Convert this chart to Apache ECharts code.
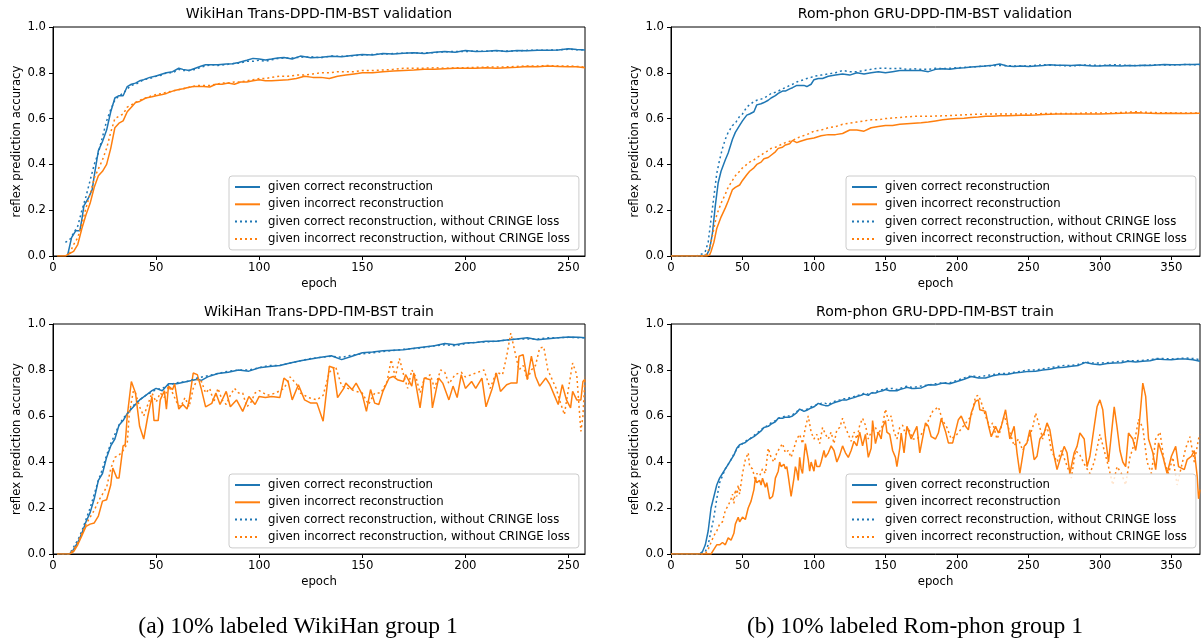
<!DOCTYPE html>
<html>
<head>
<meta charset="utf-8">
<script src="https://cdn.jsdelivr.net/npm/echarts@6/dist/echarts.min.js"></script>
<style>
html,body{margin:0;padding:0;background:#fff;}
#chart{width:1201px;height:639px;}
</style>
</head>
<body>
<div id="chart"></div>
<script>
// ---- labels ----
const seriesNames = [
  'given correct reconstruction',
  'given incorrect reconstruction',
  'given correct reconstruction, without CRINGE loss',
  'given incorrect reconstruction, without CRINGE loss'
];
const panelTitles = [
  'WikiHan Trans-DPD-ΠM-BST validation',
  'Rom-phon GRU-DPD-ΠM-BST validation',
  'WikiHan Trans-DPD-ΠM-BST train',
  'Rom-phon GRU-DPD-ΠM-BST train'
];
const captions = ['(a) 10% labeled WikiHan group 1', '(b) 10% labeled Rom-phon group 1'];
const yTicks = [0, 0.2, 0.4, 0.6, 0.8, 1.0];
const xTicksWiki = [0, 50, 100, 150, 200, 250];
const xTicksRom = [0, 50, 100, 150, 200, 250, 300, 350];
const xMaxWiki = 258;
const xMaxRom = 370;

// ---- WikiHan validation: [epoch, accuracy] ----
const wikiValCorrect = [[7,0],[9,0.08],[11,0.11],[13,0.11],[14,0.16],[15,0.22],[17,0.25],[19,0.29],[20,0.35],[22,0.46],[24,0.50],[26,0.55],[28,0.63],[30,0.69],[32,0.70],[34,0.70],[36,0.74],[38,0.75],[40,0.755],[42,0.765],[44,0.77],[47,0.78],[50,0.786],[53,0.795],[55,0.80],[58,0.805],[61,0.82],[63,0.815],[66,0.81],[69,0.82],[72,0.83],[74,0.835],[77,0.835],[80,0.835],[84,0.838],[87,0.84],[90,0.845],[94,0.855],[97,0.863],[100,0.86],[103,0.856],[106,0.86],[109,0.865],[112,0.867],[116,0.86],[120,0.873],[125,0.866],[130,0.868],[135,0.872],[140,0.87],[145,0.876],[150,0.88],[155,0.878],[160,0.884],[165,0.882],[170,0.885],[175,0.888],[180,0.884],[185,0.89],[190,0.893],[195,0.89],[200,0.897],[205,0.893],[210,0.894],[215,0.897],[220,0.893],[225,0.897],[230,0.896],[235,0.899],[240,0.898],[245,0.9],[250,0.905],[254,0.902],[258,0.9]];
const wikiValIncorrect = [[2,0],[6,0],[8,0.01],[10,0.02],[12,0.05],[14,0.12],[16,0.18],[18,0.23],[20,0.3],[22,0.35],[24,0.37],[26,0.4],[28,0.47],[30,0.56],[32,0.58],[34,0.59],[36,0.63],[38,0.65],[40,0.67],[42,0.675],[45,0.69],[48,0.695],[50,0.70],[53,0.705],[55,0.71],[58,0.72],[60,0.725],[63,0.73],[65,0.735],[68,0.74],[70,0.74],[73,0.74],[76,0.738],[79,0.75],[82,0.75],[85,0.755],[88,0.75],[91,0.76],[94,0.76],[97,0.765],[100,0.77],[103,0.765],[106,0.765],[110,0.768],[114,0.77],[118,0.775],[122,0.785],[126,0.78],[130,0.78],[134,0.775],[138,0.785],[142,0.79],[146,0.795],[150,0.80],[155,0.80],[160,0.805],[165,0.808],[170,0.81],[175,0.812],[180,0.815],[185,0.815],[190,0.818],[195,0.82],[200,0.82],[205,0.82],[210,0.822],[215,0.82],[220,0.822],[225,0.824],[230,0.828],[235,0.826],[240,0.83],[245,0.828],[250,0.826],[254,0.826],[258,0.822]];
const wikiValCorrectNoCringe = [[6,0.06],[8,0.07],[10,0.1],[12,0.13],[14,0.2],[16,0.26],[18,0.33],[20,0.4],[22,0.45],[24,0.52],[26,0.59],[28,0.64],[30,0.68],[32,0.7],[34,0.71],[36,0.73],[38,0.745],[40,0.75],[42,0.76],[44,0.77],[47,0.775],[50,0.785],[53,0.79],[55,0.8],[58,0.8],[61,0.815],[63,0.81],[66,0.81],[69,0.815],[72,0.825],[74,0.83],[77,0.835],[80,0.832],[84,0.836],[87,0.84],[90,0.842],[94,0.85],[97,0.85],[100,0.855],[103,0.85],[106,0.857],[109,0.862],[112,0.865],[116,0.865],[120,0.868],[125,0.87],[130,0.866],[135,0.873],[140,0.872],[145,0.874],[150,0.878],[155,0.88],[160,0.882],[165,0.884],[170,0.886],[175,0.886],[180,0.887],[185,0.888],[190,0.892],[195,0.893],[200,0.893],[205,0.895],[210,0.894],[215,0.896],[220,0.895],[225,0.896],[230,0.898],[235,0.898],[240,0.899],[245,0.9],[250,0.903],[254,0.901],[258,0.9]];
const wikiValIncorrectNoCringe = [[8,0.01],[10,0.05],[12,0.08],[14,0.14],[16,0.21],[18,0.27],[20,0.34],[22,0.38],[24,0.42],[26,0.47],[28,0.54],[30,0.6],[32,0.61],[34,0.62],[36,0.65],[38,0.66],[40,0.67],[42,0.68],[45,0.69],[48,0.7],[50,0.705],[53,0.71],[55,0.715],[58,0.72],[60,0.725],[63,0.73],[65,0.735],[68,0.74],[70,0.745],[73,0.745],[76,0.745],[79,0.75],[82,0.755],[85,0.755],[88,0.76],[91,0.76],[94,0.765],[97,0.77],[100,0.775],[103,0.775],[106,0.78],[110,0.785],[114,0.785],[118,0.79],[122,0.79],[126,0.795],[130,0.8],[134,0.8],[138,0.805],[142,0.805],[146,0.805],[150,0.81],[155,0.81],[160,0.812],[165,0.815],[170,0.82],[175,0.82],[180,0.82],[185,0.822],[190,0.82],[195,0.822],[200,0.822],[205,0.824],[210,0.825],[215,0.825],[220,0.826],[225,0.828],[230,0.83],[235,0.83],[240,0.832],[245,0.83],[250,0.83],[254,0.828],[258,0.825]];

// ---- Rom-phon validation ----
const romValCorrect = [[0,0],[5,0],[10,0],[15,0],[20,0],[23,0.002],[25,0.005],[27,0.03],[29,0.10],[30,0.16],[31,0.22],[33,0.32],[35,0.37],[38,0.42],[40,0.45],[43,0.51],[45,0.54],[48,0.57],[50,0.59],[53,0.615],[55,0.62],[58,0.63],[60,0.66],[63,0.665],[65,0.67],[68,0.68],[70,0.69],[73,0.70],[75,0.71],[78,0.72],[80,0.72],[83,0.73],[85,0.735],[88,0.745],[90,0.745],[93,0.745],[95,0.74],[98,0.75],[100,0.77],[103,0.775],[106,0.775],[110,0.785],[115,0.79],[120,0.795],[125,0.79],[130,0.80],[135,0.795],[140,0.80],[145,0.805],[150,0.80],[155,0.805],[160,0.81],[165,0.81],[170,0.81],[175,0.81],[180,0.805],[185,0.815],[190,0.818],[195,0.815],[200,0.82],[205,0.822],[210,0.825],[215,0.828],[220,0.83],[225,0.833],[230,0.838],[235,0.83],[240,0.828],[245,0.83],[250,0.827],[255,0.83],[260,0.832],[265,0.835],[270,0.833],[275,0.833],[280,0.832],[285,0.834],[290,0.832],[295,0.83],[300,0.83],[305,0.832],[310,0.831],[315,0.83],[320,0.832],[325,0.831],[330,0.833],[335,0.832],[340,0.834],[345,0.836],[350,0.835],[355,0.835],[360,0.836],[365,0.836],[370,0.837]];
const romValIncorrect = [[0,0],[10,0],[20,0],[25,0],[27,0.005],[28,0.02],[30,0.06],[32,0.12],[35,0.17],[38,0.21],[40,0.24],[43,0.29],[45,0.30],[48,0.31],[50,0.33],[53,0.355],[55,0.37],[58,0.385],[60,0.40],[63,0.41],[65,0.425],[68,0.43],[70,0.44],[73,0.455],[75,0.47],[78,0.475],[80,0.485],[83,0.49],[85,0.505],[88,0.495],[90,0.50],[95,0.51],[100,0.515],[105,0.525],[110,0.53],[115,0.53],[120,0.535],[125,0.55],[130,0.55],[135,0.545],[140,0.56],[145,0.565],[150,0.57],[155,0.57],[160,0.575],[165,0.578],[170,0.58],[175,0.582],[180,0.585],[185,0.59],[190,0.595],[195,0.598],[200,0.60],[205,0.602],[210,0.605],[215,0.607],[220,0.61],[225,0.61],[230,0.612],[235,0.612],[240,0.614],[245,0.615],[250,0.615],[255,0.616],[260,0.618],[270,0.62],[280,0.62],[290,0.62],[300,0.62],[310,0.622],[320,0.624],[325,0.626],[330,0.624],[340,0.622],[350,0.623],[360,0.622],[370,0.623]];
const romValCorrectNoCringe = [[0,0],[10,0],[18,0],[20,0.005],[22,0.01],[24,0.02],[26,0.06],[28,0.16],[30,0.26],[32,0.36],[34,0.42],[36,0.47],[38,0.51],[40,0.54],[43,0.57],[45,0.58],[48,0.61],[50,0.62],[53,0.65],[55,0.66],[58,0.675],[60,0.68],[63,0.685],[65,0.69],[68,0.70],[70,0.71],[73,0.715],[75,0.72],[78,0.73],[80,0.735],[83,0.745],[85,0.75],[88,0.76],[90,0.765],[93,0.77],[95,0.775],[98,0.78],[100,0.785],[105,0.79],[110,0.795],[115,0.80],[120,0.81],[125,0.805],[130,0.805],[135,0.81],[140,0.815],[145,0.82],[150,0.82],[155,0.818],[160,0.82],[165,0.815],[170,0.818],[175,0.815],[180,0.815],[185,0.82],[190,0.818],[195,0.82],[200,0.822],[210,0.825],[220,0.83],[230,0.832],[240,0.83],[250,0.83],[260,0.835],[270,0.832],[280,0.83],[290,0.834],[300,0.832],[310,0.835],[320,0.832],[330,0.832],[340,0.835],[350,0.834],[360,0.836],[370,0.835]];
const romValIncorrectNoCringe = [[0,0],[10,0],[20,0],[24,0],[26,0.02],[28,0.06],[30,0.12],[32,0.18],[35,0.23],[38,0.27],[40,0.30],[43,0.33],[45,0.35],[48,0.37],[50,0.385],[53,0.40],[55,0.41],[58,0.42],[60,0.43],[63,0.44],[65,0.45],[68,0.46],[70,0.47],[73,0.475],[75,0.48],[78,0.49],[80,0.495],[85,0.505],[90,0.52],[95,0.53],[100,0.545],[105,0.55],[110,0.56],[115,0.565],[120,0.575],[125,0.58],[130,0.585],[135,0.59],[140,0.595],[145,0.595],[150,0.60],[155,0.603],[160,0.605],[170,0.61],[180,0.61],[190,0.612],[200,0.615],[210,0.618],[220,0.62],[230,0.62],[240,0.62],[250,0.62],[260,0.622],[270,0.622],[280,0.622],[290,0.624],[300,0.625],[310,0.625],[320,0.628],[325,0.63],[330,0.628],[340,0.626],[350,0.625],[360,0.625],[370,0.625]];

// ---- WikiHan train ----
const wikiTrainCorrect = [[2,0],[6,0],[8,0],[10,0.02],[12,0.05],[14,0.09],[16,0.14],[18,0.18],[20,0.24],[22,0.32],[24,0.35],[26,0.42],[28,0.47],[30,0.50],[32,0.56],[34,0.58],[36,0.61],[38,0.63],[40,0.65],[42,0.67],[45,0.69],[48,0.71],[50,0.72],[53,0.71],[56,0.74],[60,0.74],[65,0.75],[70,0.76],[72,0.755],[75,0.77],[80,0.785],[85,0.79],[90,0.80],[95,0.795],[100,0.81],[105,0.815],[110,0.82],[115,0.83],[120,0.84],[125,0.848],[130,0.855],[135,0.862],[140,0.845],[145,0.86],[150,0.875],[155,0.878],[160,0.884],[165,0.886],[170,0.888],[175,0.895],[180,0.90],[185,0.905],[190,0.915],[195,0.91],[200,0.917],[205,0.92],[210,0.925],[215,0.925],[220,0.93],[225,0.935],[230,0.94],[235,0.932],[240,0.936],[245,0.94],[250,0.943],[255,0.942],[258,0.94]];
const wikiTrainIncorrect = [[2,0],[8,0],[10,0.01],[12,0.04],[14,0.08],[16,0.12],[18,0.13],[20,0.135],[22,0.165],[24,0.23],[26,0.236],[28,0.30],[29,0.374],[31,0.33],[32,0.33],[34,0.47],[35,0.475],[36,0.60],[38,0.75],[40,0.70],[42,0.555],[44,0.50],[46,0.60],[48,0.685],[49,0.58],[51,0.58],[52,0.67],[54,0.71],[55,0.63],[56,0.73],[58,0.715],[59,0.74],[61,0.63],[63,0.65],[65,0.63],[66,0.665],[68,0.787],[70,0.78],[72,0.715],[74,0.64],[77,0.655],[79,0.70],[81,0.65],[84,0.707],[86,0.64],[89,0.67],[92,0.62],[95,0.685],[98,0.65],[100,0.685],[103,0.68],[106,0.685],[110,0.68],[112,0.765],[114,0.75],[116,0.67],[119,0.736],[122,0.67],[125,0.656],[128,0.656],[131,0.577],[134,0.816],[136,0.81],[138,0.68],[141,0.72],[142,0.743],[145,0.715],[147,0.743],[150,0.693],[152,0.62],[154,0.715],[156,0.656],[158,0.65],[160,0.707],[163,0.765],[165,0.772],[167,0.758],[170,0.75],[171,0.78],[174,0.73],[175,0.787],[178,0.635],[180,0.765],[183,0.758],[184,0.635],[187,0.765],[189,0.743],[192,0.67],[194,0.73],[196,0.68],[198,0.78],[200,0.72],[203,0.75],[205,0.72],[208,0.765],[210,0.64],[213,0.72],[215,0.787],[217,0.707],[220,0.736],[222,0.743],[225,0.743],[226,0.86],[228,0.867],[230,0.758],[232,0.86],[234,0.772],[236,0.73],[239,0.765],[241,0.736],[243,0.693],[245,0.65],[247,0.736],[249,0.67],[251,0.635],[252,0.707],[254,0.67],[256,0.67],[257,0.75],[258,0.76]];
const wikiTrainCorrectNoCringe = [[2,0],[8,0],[10,0.03],[12,0.06],[14,0.1],[16,0.15],[18,0.2],[20,0.26],[22,0.32],[24,0.37],[26,0.43],[28,0.48],[30,0.52],[32,0.56],[34,0.59],[36,0.61],[38,0.635],[40,0.655],[42,0.67],[45,0.69],[48,0.705],[50,0.715],[53,0.72],[56,0.735],[60,0.745],[65,0.75],[70,0.765],[75,0.775],[80,0.785],[85,0.795],[90,0.80],[95,0.80],[100,0.81],[105,0.82],[110,0.82],[115,0.83],[120,0.84],[125,0.85],[130,0.855],[135,0.86],[140,0.855],[145,0.865],[150,0.87],[155,0.875],[160,0.88],[165,0.885],[170,0.89],[175,0.893],[180,0.898],[185,0.905],[190,0.91],[195,0.905],[200,0.915],[205,0.92],[210,0.922],[215,0.925],[220,0.93],[225,0.935],[230,0.935],[235,0.935],[240,0.94],[245,0.94],[250,0.942],[255,0.94],[258,0.94]];
const wikiTrainIncorrectNoCringe = [[2,0],[8,0],[10,0.02],[12,0.05],[14,0.09],[16,0.13],[18,0.16],[20,0.19],[22,0.23],[24,0.26],[26,0.29],[28,0.37],[30,0.42],[32,0.43],[34,0.45],[36,0.48],[37,0.61],[39,0.71],[40,0.70],[42,0.64],[44,0.60],[46,0.65],[48,0.70],[50,0.66],[52,0.70],[54,0.68],[56,0.73],[58,0.70],[60,0.66],[62,0.64],[64,0.68],[66,0.64],[68,0.72],[70,0.76],[72,0.75],[74,0.70],[76,0.72],[78,0.66],[80,0.72],[82,0.67],[84,0.65],[86,0.69],[88,0.72],[90,0.70],[92,0.70],[94,0.64],[96,0.66],[98,0.70],[100,0.71],[104,0.69],[108,0.70],[112,0.72],[115,0.77],[118,0.74],[120,0.70],[124,0.68],[128,0.67],[131,0.69],[134,0.79],[137,0.816],[140,0.73],[143,0.72],[146,0.71],[150,0.70],[153,0.65],[156,0.70],[159,0.70],[162,0.75],[164,0.845],[166,0.77],[168,0.85],[170,0.78],[172,0.72],[174,0.80],[176,0.77],[178,0.70],[180,0.76],[183,0.78],[185,0.72],[188,0.80],[190,0.79],[192,0.74],[195,0.78],[198,0.79],[200,0.77],[203,0.78],[206,0.79],[209,0.80],[212,0.72],[215,0.79],[218,0.78],[220,0.86],[222,0.96],[224,0.88],[226,0.80],[228,0.82],[230,0.76],[232,0.80],[234,0.82],[236,0.895],[238,0.90],[240,0.80],[242,0.76],[244,0.72],[246,0.66],[248,0.606],[250,0.72],[252,0.83],[254,0.78],[256,0.533],[257,0.60],[258,0.77]];

// ---- Rom-phon train ----
const romTrainCorrect = [[0,0],[10,0],[20,0],[22,0.01],[24,0.04],[26,0.10],[28,0.20],[30,0.25],[32,0.30],[34,0.33],[36,0.35],[38,0.37],[40,0.39],[42,0.41],[44,0.43],[46,0.46],[48,0.475],[50,0.48],[52,0.485],[55,0.50],[58,0.51],[60,0.52],[63,0.535],[65,0.55],[68,0.555],[70,0.565],[73,0.575],[75,0.59],[78,0.59],[80,0.595],[83,0.595],[85,0.60],[88,0.615],[90,0.63],[93,0.62],[95,0.625],[98,0.635],[100,0.64],[103,0.655],[105,0.65],[108,0.645],[110,0.645],[113,0.655],[115,0.66],[118,0.665],[120,0.67],[123,0.67],[125,0.675],[128,0.68],[130,0.685],[133,0.69],[135,0.695],[138,0.69],[140,0.70],[143,0.70],[145,0.705],[148,0.71],[150,0.715],[153,0.71],[155,0.71],[158,0.71],[160,0.715],[163,0.72],[165,0.725],[168,0.72],[170,0.72],[175,0.722],[180,0.736],[185,0.735],[190,0.743],[195,0.74],[200,0.75],[205,0.76],[210,0.772],[215,0.765],[220,0.765],[225,0.775],[230,0.78],[235,0.78],[240,0.787],[245,0.79],[250,0.794],[255,0.795],[260,0.80],[265,0.803],[270,0.81],[275,0.812],[280,0.816],[285,0.82],[290,0.833],[295,0.826],[300,0.823],[305,0.828],[310,0.83],[315,0.832],[320,0.838],[325,0.835],[330,0.838],[335,0.84],[340,0.848],[345,0.846],[350,0.845],[355,0.848],[360,0.848],[365,0.845],[370,0.838]];
const romTrainIncorrect = [[0,0],[10,0],[20,0],[28,0],[30,0.02],[32,0.04],[34,0.04],[36,0.05],[38,0.04],[40,0.07],[42,0.06],[44,0.09],[45,0.13],[47,0.16],[48,0.14],[50,0.16],[52,0.15],[54,0.20],[56,0.23],[58,0.28],[59,0.33],[60,0.31],[62,0.32],[63,0.30],[64,0.33],[66,0.29],[67,0.31],[69,0.24],[71,0.25],[72,0.28],[73,0.33],[75,0.36],[76,0.40],[77,0.38],[79,0.39],[80,0.37],[81,0.38],[82,0.34],[84,0.25],[86,0.33],[87,0.38],[88,0.36],[89,0.32],[90,0.42],[91,0.37],[92,0.35],[93,0.42],[94,0.48],[96,0.41],[97,0.36],[98,0.40],[100,0.36],[101,0.41],[102,0.38],[104,0.38],[105,0.40],[107,0.45],[108,0.42],[110,0.44],[112,0.47],[114,0.45],[116,0.40],[118,0.43],[120,0.47],[122,0.44],[124,0.42],[126,0.45],[128,0.49],[130,0.47],[132,0.53],[134,0.47],[136,0.52],[138,0.42],[140,0.46],[141,0.58],[143,0.48],[145,0.53],[147,0.50],[148,0.55],[150,0.58],[151,0.53],[153,0.52],[155,0.45],[157,0.42],[158,0.38],[160,0.46],[161,0.526],[163,0.44],[165,0.555],[168,0.50],[172,0.555],[174,0.44],[178,0.57],[180,0.555],[182,0.51],[185,0.50],[187,0.526],[189,0.59],[192,0.533],[194,0.483],[197,0.483],[201,0.584],[203,0.60],[206,0.555],[208,0.54],[210,0.613],[213,0.664],[215,0.67],[216,0.627],[220,0.62],[222,0.56],[224,0.51],[227,0.555],[229,0.526],[231,0.555],[234,0.627],[237,0.50],[240,0.555],[242,0.44],[244,0.35],[247,0.468],[249,0.483],[251,0.54],[254,0.41],[256,0.425],[258,0.50],[261,0.526],[263,0.57],[265,0.54],[268,0.425],[270,0.367],[272,0.41],[275,0.468],[277,0.44],[279,0.35],[282,0.44],[284,0.468],[286,0.526],[289,0.50],[291,0.38],[293,0.425],[296,0.555],[298,0.64],[300,0.67],[302,0.627],[304,0.50],[306,0.40],[308,0.52],[310,0.64],[312,0.55],[314,0.45],[316,0.40],[318,0.38],[320,0.526],[323,0.50],[325,0.45],[327,0.526],[330,0.743],[332,0.685],[334,0.50],[337,0.44],[339,0.367],[341,0.483],[344,0.425],[347,0.35],[350,0.425],[353,0.468],[355,0.38],[359,0.367],[361,0.41],[364,0.425],[366,0.45],[368,0.34],[369,0.24],[370,0.28]];
const romTrainCorrectNoCringe = [[0,0],[10,0],[20,0],[22,0.005],[24,0.01],[26,0.04],[28,0.10],[30,0.16],[32,0.24],[34,0.31],[36,0.34],[38,0.37],[40,0.39],[42,0.41],[44,0.435],[46,0.455],[48,0.47],[50,0.48],[52,0.49],[55,0.50],[58,0.515],[60,0.525],[63,0.54],[65,0.55],[68,0.56],[70,0.57],[73,0.58],[75,0.59],[78,0.595],[80,0.60],[83,0.60],[85,0.605],[88,0.62],[90,0.625],[93,0.625],[95,0.63],[98,0.64],[100,0.645],[103,0.65],[105,0.655],[108,0.655],[110,0.65],[113,0.66],[115,0.665],[118,0.67],[120,0.675],[123,0.675],[125,0.68],[128,0.685],[130,0.69],[133,0.69],[135,0.70],[138,0.695],[140,0.70],[143,0.705],[145,0.71],[148,0.715],[150,0.72],[153,0.72],[155,0.72],[158,0.715],[160,0.72],[163,0.725],[165,0.73],[168,0.725],[170,0.725],[175,0.73],[180,0.735],[185,0.74],[190,0.745],[195,0.745],[200,0.755],[205,0.765],[210,0.775],[215,0.77],[220,0.775],[225,0.78],[230,0.785],[235,0.785],[240,0.79],[245,0.795],[250,0.80],[255,0.80],[260,0.805],[265,0.81],[270,0.815],[275,0.82],[280,0.82],[285,0.825],[290,0.835],[295,0.83],[300,0.83],[305,0.832],[310,0.835],[315,0.838],[320,0.84],[325,0.84],[330,0.842],[335,0.845],[340,0.85],[345,0.85],[350,0.848],[355,0.85],[360,0.852],[365,0.85],[370,0.845]];
const romTrainIncorrectNoCringe = [[0,0],[10,0],[20,0],[24,0],[26,0.02],[28,0.05],[30,0.08],[32,0.10],[34,0.13],[36,0.14],[38,0.19],[40,0.21],[42,0.24],[43,0.26],[44,0.22],[45,0.28],[46,0.25],[47,0.30],[48,0.26],[50,0.35],[52,0.41],[54,0.44],[55,0.38],[57,0.37],[59,0.32],[60,0.35],[62,0.34],[64,0.37],[66,0.35],[68,0.46],[70,0.42],[72,0.40],[74,0.44],[76,0.46],[78,0.48],[80,0.44],[82,0.45],[84,0.42],[86,0.46],[88,0.50],[90,0.52],[92,0.48],[94,0.55],[96,0.60],[98,0.53],[100,0.50],[102,0.52],[104,0.48],[106,0.55],[108,0.52],[110,0.50],[112,0.53],[114,0.48],[116,0.54],[118,0.55],[120,0.59],[122,0.55],[124,0.52],[126,0.49],[128,0.53],[130,0.50],[132,0.56],[134,0.59],[136,0.56],[138,0.50],[140,0.53],[143,0.55],[145,0.52],[148,0.56],[150,0.63],[152,0.58],[154,0.60],[156,0.53],[158,0.50],[160,0.55],[162,0.56],[164,0.52],[166,0.55],[169,0.50],[172,0.50],[175,0.52],[178,0.55],[180,0.58],[183,0.62],[185,0.63],[187,0.64],[190,0.58],[193,0.55],[196,0.50],[200,0.52],[205,0.56],[210,0.60],[213,0.685],[215,0.69],[217,0.66],[220,0.60],[223,0.55],[225,0.57],[228,0.50],[230,0.53],[233,0.60],[236,0.55],[240,0.47],[243,0.50],[246,0.45],[250,0.50],[253,0.55],[255,0.613],[258,0.55],[260,0.50],[263,0.56],[266,0.45],[270,0.40],[273,0.45],[276,0.40],[280,0.33],[283,0.45],[286,0.43],[290,0.38],[293,0.35],[296,0.40],[300,0.52],[303,0.45],[306,0.38],[309,0.30],[312,0.38],[315,0.35],[318,0.30],[321,0.42],[324,0.48],[327,0.585],[330,0.55],[333,0.40],[336,0.35],[339,0.50],[342,0.53],[345,0.40],[348,0.35],[351,0.42],[354,0.30],[357,0.38],[360,0.46],[363,0.51],[366,0.40],[369,0.50],[370,0.52]];

// ---- build chart ----
const BLUE = '#1f77b4', ORANGE = '#ff7f0e';
const FONT = 'DejaVu Sans';
const panels = [
  {data: [wikiValCorrect, wikiValIncorrect, wikiValCorrectNoCringe, wikiValIncorrectNoCringe], xMax: xMaxWiki, xTicks: xTicksWiki,
   grid: {left: 53, top: 27, width: 532, height: 229}, legend: {left: 229, top: 176}, title: [319, 14]},
  {data: [romValCorrect, romValIncorrect, romValCorrectNoCringe, romValIncorrectNoCringe], xMax: xMaxRom, xTicks: xTicksRom,
   grid: {left: 671, top: 27, width: 529, height: 229}, legend: {left: 846, top: 176}, title: [935, 14]},
  {data: [wikiTrainCorrect, wikiTrainIncorrect, wikiTrainCorrectNoCringe, wikiTrainIncorrectNoCringe], xMax: xMaxWiki, xTicks: xTicksWiki,
   grid: {left: 53, top: 324, width: 532, height: 230}, legend: {left: 229, top: 474}, title: [319, 312]},
  {data: [romTrainCorrect, romTrainIncorrect, romTrainCorrectNoCringe, romTrainIncorrectNoCringe], xMax: xMaxRom, xTicks: xTicksRom,
   grid: {left: 671, top: 324, width: 529, height: 230}, legend: {left: 846, top: 474}, title: [935, 312]}
];
const styles = [
  {color: BLUE, type: 'solid'},
  {color: ORANGE, type: 'solid'},
  {color: BLUE, type: [2, 3]},
  {color: ORANGE, type: [2, 3]}
];

const grids = [], xAxes = [], yAxes = [], series = [], legends = [], graphics = [];
panels.forEach((p, i) => {
  grids.push(Object.assign({show: true, borderColor: '#000', borderWidth: 1, backgroundColor: '#fff', containLabel: false}, p.grid));
  xAxes.push({
    type: 'value', gridIndex: i, min: 0, max: p.xMax,
    axisLine: {show: true, onZero: false, lineStyle: {color: '#000', width: 1}},
    axisTick: {show: true, length: 4, customValues: p.xTicks, lineStyle: {color: '#000'}},
    axisLabel: {customValues: p.xTicks, color: '#000', fontSize: 11.7, fontFamily: FONT, margin: 6},
    splitLine: {show: false},
    name: 'epoch', nameLocation: 'middle', nameGap: 22,
    nameTextStyle: {color: '#000', fontSize: 11.7, fontFamily: FONT}
  });
  yAxes.push({
    type: 'value', gridIndex: i, min: 0, max: 1, interval: 0.2,
    axisLine: {show: true, lineStyle: {color: '#000', width: 1}},
    axisTick: {show: true, length: 4, lineStyle: {color: '#000'}},
    axisLabel: {color: '#000', fontSize: 11.7, fontFamily: FONT, margin: 7, formatter: v => v.toFixed(1)},
    splitLine: {show: false},
    name: 'reflex prediction accuracy', nameLocation: 'middle', nameGap: 30, nameRotate: 90,
    nameTextStyle: {color: '#000', fontSize: 11.7, fontFamily: FONT}
  });
  p.data.forEach((d, k) => {
    series.push({
      type: 'line', name: seriesNames[k], xAxisIndex: i, yAxisIndex: i,
      data: d, symbol: 'none', showSymbol: false, smooth: false, animation: false,
      lineStyle: {color: styles[k].color, width: 1.5, type: styles[k].type, cap: 'butt'},
      itemStyle: {color: styles[k].color},
      emphasis: {disabled: true}
    });
  });
  legends.push({
    data: seriesNames, left: p.legend.left, top: p.legend.top, orient: 'vertical',
    selectedMode: false, backgroundColor: 'rgba(255,255,255,0.8)', borderColor: '#cccccc', borderWidth: 1, borderRadius: 3,
    padding: [5, 9, 5, 5], itemWidth: 25, itemHeight: 13, itemGap: 5.3,
    itemStyle: {opacity: 0},
    textStyle: {color: '#000', fontSize: 11.7, fontFamily: FONT, padding: [0, 0, 0, 3]}
  });
  graphics.push({type: 'text', x: p.title[0], y: p.title[1],
    style: {text: panelTitles[i], fill: '#000', font: '14px "DejaVu Sans"', textAlign: 'center', textVerticalAlign: 'middle'}});
});
graphics.push({type: 'text', x: 298, y: 627,
  style: {text: captions[0], fill: '#000', font: '23.6px "Liberation Serif"', textAlign: 'center', textVerticalAlign: 'middle'}});
graphics.push({type: 'text', x: 915, y: 627,
  style: {text: captions[1], fill: '#000', font: '23.6px "Liberation Serif"', textAlign: 'center', textVerticalAlign: 'middle'}});

const chart = echarts.init(document.getElementById('chart'));
chart.setOption({
  animation: false,
  backgroundColor: '#fff',
  grid: grids, xAxis: xAxes, yAxis: yAxes, series: series, legend: legends,
  graphic: graphics
});
</script>
</body>
</html>
